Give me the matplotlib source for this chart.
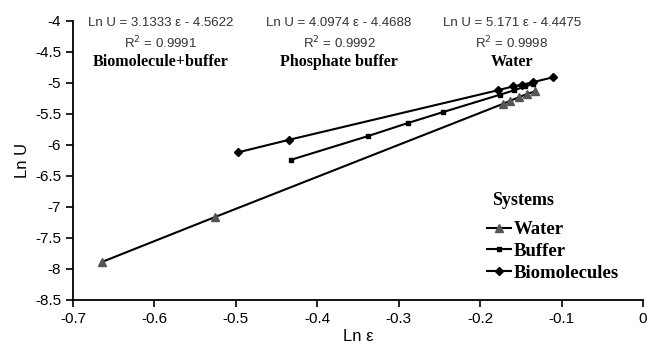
import matplotlib.pyplot as plt

# Ln eps vs Ln U for the three systems
water_x = [-0.665, -0.525, -0.172, -0.163, -0.152, -0.142, -0.133]
water_y = [-7.89, -7.16, -5.34, -5.29, -5.23, -5.18, -5.14]

buffer_x = [-0.432, -0.338, -0.289, -0.245, -0.175, -0.158, -0.145, -0.135]
buffer_y = [-6.24, -5.86, -5.65, -5.47, -5.19, -5.12, -5.06, -5.02]

bio_x = [-0.497, -0.435, -0.178, -0.160, -0.148, -0.135, -0.110]
bio_y = [-6.12, -5.92, -5.12, -5.06, -5.03, -4.99, -4.91]

fit_labels = [
    ("Ln U = 3.1333 \u03b5 - 4.5622", "R$^2$ = 0.9991", "Biomolecule+buffer", 161),
    ("Ln U = 4.0974 \u03b5 - 4.4688", "R$^2$ = 0.9992", "Phosphate buffer", 339),
    ("Ln U = 5.171 \u03b5 - 4.4475", "R$^2$ = 0.9998", "Water", 512),
]

plt.rcParams["font.family"] = ["Liberation Sans", "DejaVu Sans"]

fig = plt.figure(figsize=(6.47, 3.46), dpi=100)
ax = fig.add_axes([73 / 647, 46 / 346, 570 / 647, 279.3 / 346])

ax.plot(water_x, water_y, color="black", lw=1.5, marker="^", ms=6,
        markerfacecolor="#555555", markeredgecolor="#555555", label="Water")
ax.plot(buffer_x, buffer_y, color="black", lw=1.5, marker="s", ms=3.5,
        label="Buffer")
ax.plot(bio_x, bio_y, color="black", lw=1.5, marker="D", ms=4,
        label="Biomolecules")

ax.set_xlim(-0.7, 0)
ax.set_ylim(-8.5, -4)
ax.set_xticks([-0.7, -0.6, -0.5, -0.4, -0.3, -0.2, -0.1, 0])
ax.set_xticklabels(["-0.7", "-0.6", "-0.5", "-0.4", "-0.3", "-0.2", "-0.1", "0"])
ax.set_yticks([-8.5, -8, -7.5, -7, -6.5, -6, -5.5, -5, -4.5, -4])
ax.set_yticklabels(["-8.5", "-8", "-7.5", "-7", "-6.5", "-6", "-5.5", "-5", "-4.5", "-4"])
ax.tick_params(labelsize=11, length=5, width=1.2, direction="out")
ax.spines["top"].set_visible(False)
ax.spines["right"].set_visible(False)
ax.spines["left"].set_linewidth(1.3)
ax.spines["bottom"].set_linewidth(1.3)

ax.set_xlabel("Ln \u03b5", fontsize=12, labelpad=2)
ax.set_ylabel("Ln U", fontsize=12, labelpad=4)

# regression equations above each line
for eq, r2, name, xc in fit_labels:
    fig.text(xc / 647, 1 - 23 / 346, eq, ha="center", va="center",
             fontsize=9.5, color="#333333")
    fig.text(xc / 647, 1 - 43 / 346, r2, ha="center", va="center",
             fontsize=9.5, color="#333333")
    fig.text(xc / 647, 1 - 62 / 346, name, ha="center", va="center",
             fontsize=11.5, fontweight="bold", family="Liberation Serif")

# legend heading drawn separately to leave a gap above the entries
fig.text(492 / 647, 1 - 200 / 346, "Systems", ha="left", va="center",
         fontsize=13, fontweight="bold", family="Liberation Serif")
leg = ax.legend(loc="upper left",
                bbox_to_anchor=(487 / 647, 1 - 221 / 346),
                bbox_transform=fig.transFigure, frameon=False,
                prop={"family": "Liberation Serif", "weight": "bold", "size": 13.5},
                handlelength=1.3, handletextpad=0.15, labelspacing=0.25,
                borderaxespad=0, borderpad=0)

fig.savefig("out.png", dpi=100)
